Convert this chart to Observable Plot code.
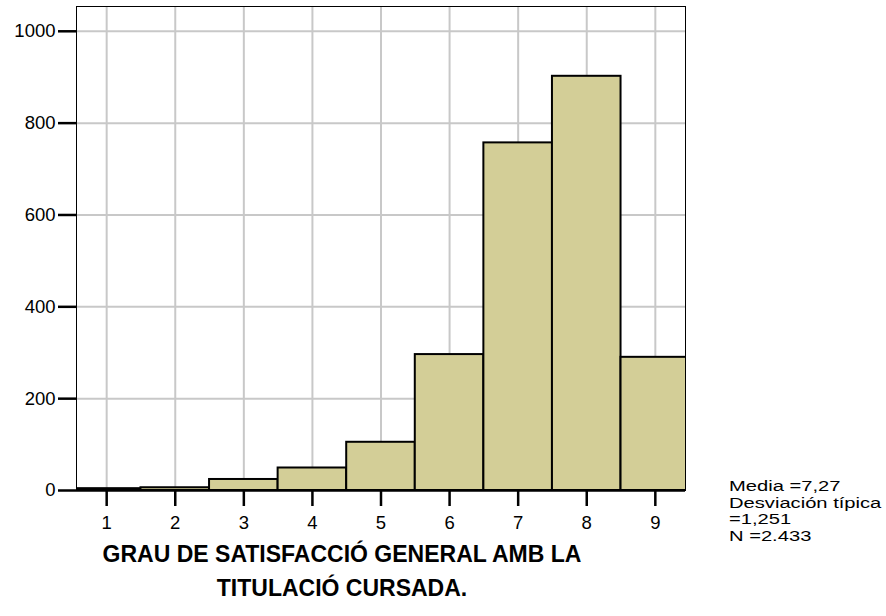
<!DOCTYPE html>
<html>
<head>
<meta charset="utf-8">
<script src="https://cdn.jsdelivr.net/npm/d3@7"></script>
<script src="https://cdn.jsdelivr.net/npm/@observablehq/plot@0.6"></script>
<style>
  html, body { margin: 0; padding: 0; background: #fff; }
  #wrap { position: relative; width: 886px; height: 616px; font-family: "Liberation Sans", Arial, sans-serif; overflow: hidden; }
  #wrap svg text { font-size: 18.5px; fill: #000; }
  #title { position: absolute; left: 92px; width: 500px; top: 537px; text-align: center; font-weight: bold; font-size: 23px; line-height: 34px; color: #000; white-space: nowrap; }
  #stats { position: absolute; left: 729px; top: 478px; font-size: 15.5px; line-height: 16.5px; color: #000; white-space: nowrap; transform: scaleX(1.3); transform-origin: 0 0; }
</style>
</head>
<body>
<div id="wrap"></div>
<script>
const scores = [1, 2, 3, 4, 5, 6, 7, 8, 9];
const counts = [4, 6, 24, 49, 105, 296, 757, 902, 290];
const yTicks = [0, 200, 400, 600, 800, 1000];
const xTicks = [1, 2, 3, 4, 5, 6, 7, 8, 9];
const titleLines = ["GRAU DE SATISFACCIÓ GENERAL AMB LA", "TITULACIÓ CURSADA."];
const statLines = ["Media =7,27", "Desviación típica", "=1,251", "N =2.433"];

const bins = scores.map((s, i) => ({x1: s - 0.5, x2: s + 0.5, count: counts[i]}));

const chart = Plot.plot({
  width: 886,
  height: 616,
  marginLeft: 76,
  marginRight: 201,
  marginTop: 6,
  marginBottom: 126,
  style: {fontFamily: "'Liberation Sans', Arial, sans-serif", fontSize: "18.5px", color: "#000", background: "#fff"},
  x: {domain: [0.56, 9.44], axis: null},
  y: {domain: [0, 1054], axis: null},
  marks: [
    Plot.gridX(xTicks, {stroke: "#c8c8c8", strokeOpacity: 1, strokeWidth: 2}),
    Plot.gridY(yTicks.filter(d => d > 0), {stroke: "#c8c8c8", strokeOpacity: 1, strokeWidth: 2}),
    Plot.frame({stroke: "#000", strokeWidth: 1}),
    Plot.rectY(bins, {x1: "x1", x2: "x2", y1: 0, y2: "count", fill: "#d3ce97", stroke: "#000", strokeWidth: 2, clip: true}),
    Plot.ruleY([0], {stroke: "#000", strokeWidth: 2.5}),
    Plot.axisY({ticks: yTicks, label: null, tickSize: 18, tickPadding: 3, strokeWidth: 2.5, stroke: "#000", fill: "#000", tickFormat: d => String(d)}),
    Plot.axisX({ticks: xTicks, label: null, tickSize: 16, tickPadding: 9, strokeWidth: 2.5, stroke: "#000", fill: "#000", tickFormat: d => String(d)})
  ]
});

const wrap = document.getElementById("wrap");
wrap.appendChild(chart);
const t = document.createElement("div");
t.id = "title";
t.innerHTML = titleLines.join("<br>");
wrap.appendChild(t);
const s = document.createElement("div");
s.id = "stats";
s.innerHTML = statLines.join("<br>");
wrap.appendChild(s);
chart.style.position = "absolute";
chart.style.left = "0";
chart.style.top = "0";
</script>
</body>
</html>
